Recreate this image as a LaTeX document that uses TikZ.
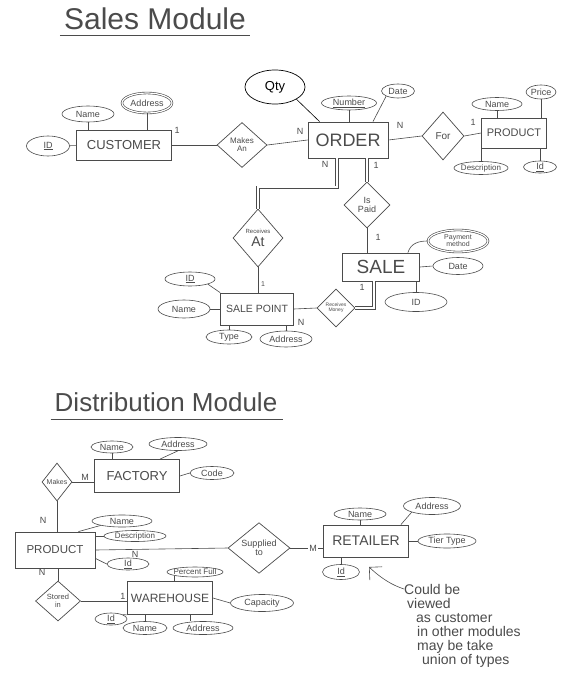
\documentclass[tikz,border=0pt]{standalone}
\usepackage{fontspec}
\setmainfont{Liberation Sans}
\usetikzlibrary{shapes.geometric,arrows.meta}
\definecolor{pencil}{RGB}{75,75,75}
\newcommand\myfs[1]{\fontsize{#1}{#1}\selectfont}
\begin{document}
\begin{tikzpicture}[x=1pt,y=-1pt,
  ent/.style={draw=pencil, line width=0.8pt, rectangle, inner sep=0pt, text=pencil},
  attr/.style={draw=pencil, line width=0.6pt, ellipse, inner sep=-3pt, text=pencil, font=\myfs{9}},
  mattr/.style={attr, double, double distance=1.2pt},
  rel/.style={draw=pencil, line width=0.7pt, diamond, inner sep=0pt, align=center, text=pencil},
  lnk/.style={draw=pencil, line width=0.6pt},
  dbl/.style={draw=pencil, line width=0.6pt, double, double distance=2pt},
  card/.style={font=\myfs{9}, inner sep=0pt, text=pencil},
  title/.style={text=pencil, inner sep=0pt},
]
\useasboundingbox (0,0) rectangle (568,685);
\fill[white] (0,0) rectangle (568,685);

% ================= Sales Module =================
\node[title, font=\myfs{30}] (t1) at (155,19) {Sales Module};
\draw[lnk] ([xshift=-4pt,yshift=-5pt]t1.south west) -- ([xshift=4pt,yshift=-5pt]t1.south east);

% CUSTOMER
\node[ent, minimum width=95pt, minimum height=30pt, font=\myfs{13}] (customer) at (124,145) {CUSTOMER};
\node[attr, minimum width=43pt, minimum height=20pt] (cid) at (48,146) {\underline{ID}};
\node[attr, minimum width=52pt, minimum height=16pt] (cname) at (88,114) {Name};
\node[mattr, minimum width=50pt, minimum height=20pt] (caddr) at (147,103) {Address};
\draw[lnk] (cid) -- (customer);
\draw[lnk] (cname.south) -- (cname.south |- customer.north);
\draw[lnk] (caddr.south) -- (caddr.south |- customer.north);

% Makes An
\node[rel, minimum width=50pt, minimum height=45pt, font=\myfs{8}] (makes) at (242,145) {Makes\\An};
\draw[lnk] (customer.east) -- (makes.west);
\node[card] (c1) at (177,130) {1};

% ORDER
\node[ent, minimum width=80pt, minimum height=36pt, font=\myfs{18}] (order) at (348,140) {ORDER};
\draw[lnk] (makes.east) -- (order.west);
\node[card] (c2) at (300,131) {N};
\node[draw=black, line width=0.7pt, ellipse, minimum width=60pt, minimum height=34pt, inner sep=0pt, font=\myfs{13}] (qty) at (275,87) {Qty};
\draw[black, line width=0.6pt] (qty.south east) -- ([xshift=12pt]order.north west);
\node[attr, minimum width=55pt, minimum height=14pt] (onum) at (349,103) {\underline{Number}};
\node[attr, minimum width=33pt, minimum height=14pt] (odate) at (398,91) {Date};
\draw[lnk] (onum.south) -- (onum.south |- order.north);
\draw[lnk] (odate.south west) -- ([xshift=25pt]order.north);

% For
\node[rel, minimum width=42pt, minimum height=48pt, font=\myfs{10}] (for) at (443,136) {For};
\draw[lnk] (order.east) -- (for.west);
\node[card] (c3) at (400,125) {N};

% PRODUCT (sales)
\node[ent, minimum width=65pt, minimum height=30pt, font=\myfs{11}] (product) at (514,133) {PRODUCT};
\draw[lnk] (for.east) -- (product.west);
\node[card] (c4) at (473,122) {1};
\node[attr, minimum width=50pt, minimum height=13pt] (pname) at (497,104) {Name};
\node[attr, minimum width=30pt, minimum height=14pt] (pprice) at (541,92) {Price};
\node[attr, minimum width=54pt, minimum height=13pt, font=\myfs{8}] (pdesc) at (481,168) {Description};
\node[attr, minimum width=33pt, minimum height=12pt] (pid) at (540,167) {\underline{Id}};
\draw[lnk] (pname.south) -- (pname.south |- product.north);
\draw[lnk] (pprice.south) -- (pprice.south |- product.north);
\draw[lnk] (pdesc.north) -- (pdesc.north |- product.south);
\draw[lnk] (pid.north) -- (pid.north |- product.south);

% Is Paid
\node[rel, minimum width=46pt, minimum height=46pt, font=\myfs{9}] (ispaid) at (367,205) {Is\\Paid};
\draw[dbl] (ispaid.north) -- (ispaid.north |- order.south);
\node[card] (c5) at (376,165) {1};

% SALE
\node[ent, minimum width=77pt, minimum height=28pt, font=\myfs{19}] (sale) at (381,267) {SALE};
\draw[lnk] (ispaid.south) -- (ispaid.south |- sale.north);
\node[card] (c6) at (378,237) {1};
\node[mattr, minimum width=60pt, minimum height=22pt, font=\myfs{7}, align=center] (spay) at (458,241) {Payment\\method};
\node[attr, minimum width=50pt, minimum height=17pt] (sdate) at (458,266) {Date};
\node[attr, minimum width=62pt, minimum height=19pt] (sid) at (416,302) {ID};
\draw[lnk] ([xshift=-12pt]sale.north east) .. controls +(3,-10) and +(-8,0) .. (spay.west);
\draw[lnk] (sale.east) -- (sdate.west);
\draw[lnk] (sid.north) -- (sid.north |- sale.south);

% Receives At
\node[rel, minimum width=50pt, minimum height=58pt, font=\myfs{6}] (recvat) at (258,238) {Receives\\[3pt]{\myfs{14}At}};
\draw[dbl] ([xshift=-11pt]order.south) -- ++(0,29) -| (recvat.north);
\node[card] (c7) at (325,164) {N};

% SALE POINT
\node[ent, minimum width=73pt, minimum height=32pt, font=\myfs{10.5}] (salept) at (257,309) {SALE POINT};
\draw[lnk] (recvat.south) -- (recvat.south |- salept.north);
\node[card, font=\myfs{7}] (c8) at (263,284) {1};
\node[attr, minimum width=50pt, minimum height=14pt] (spid) at (190,279) {\underline{ID}};
\node[attr, minimum width=52pt, minimum height=18pt] (spname) at (184,309) {Name};
\node[attr, minimum width=46pt, minimum height=14pt] (sptype) at (229,337) {Type};
\node[attr, minimum width=52pt, minimum height=16pt] (spaddr) at (286,339) {Address};
\draw[lnk] (spid.south east) -- (salept.north west);
\draw[lnk] (spname.east) -- (salept.west);
\draw[lnk] (sptype.north) -- (sptype.north |- salept.south);
\draw[lnk] (spaddr.north) -- (spaddr.north |- salept.south);

% Receives Money
\node[rel, minimum width=38pt, minimum height=38pt, font=\myfs{5}] (recvmoney) at (336,308) {Receives\\Money};
\draw[dbl] ([xshift=-7pt]sale.south) |- (recvmoney.east);
\draw[lnk] (recvmoney.west) -- (salept.east);
\node[card] (c9) at (362,287) {1};
\node[card] (c10) at (301,322) {N};

% ================= Distribution Module =================
\node[title, font=\myfs{26}] (t2) at (166,402) {Distribution Module};
\draw[lnk] ([xshift=-4pt,yshift=-8pt]t2.south west) -- ([xshift=6pt,yshift=-8pt]t2.south east);

% FACTORY
\node[ent, minimum width=85pt, minimum height=33pt, font=\myfs{13}] (factory) at (137,476) {FACTORY};
\node[attr, minimum width=42pt, minimum height=12pt] (fname) at (112,447) {Name};
\node[attr, minimum width=58pt, minimum height=13pt] (faddr) at (178,444) {Address};
\node[attr, minimum width=44pt, minimum height=13pt] (fcode) at (212,473) {Code};
\draw[lnk] (fname.south) -- (fname.south |- factory.north);
\draw[lnk] (faddr.south) -- ([xshift=23pt]factory.north);
\draw[lnk] (fcode.west) -- (factory.east);

% Makes
\node[rel, minimum width=30pt, minimum height=38pt, font=\myfs{7}] (makesd) at (57,482) {Makes};
\draw[lnk] (makesd.east) -- (makesd.east -| factory.west);
\node[card] (d1) at (85,477) {M};

% PRODUCT (distribution)
\node[ent, minimum width=80pt, minimum height=36pt, font=\myfs{11.5}] (dprod) at (55,550) {PRODUCT};
\draw[lnk] (makesd.south) -- (makesd.south |- dprod.north);
\node[card] (d2) at (43,520) {N};
\node[attr, minimum width=60pt, minimum height=12pt] (dname) at (122,521) {Name};
\node[attr, minimum width=62pt, minimum height=11pt, font=\myfs{8}] (ddesc) at (135,536) {Description};
\node[attr, minimum width=42pt, minimum height=12pt] (did) at (128,564) {\underline{Id}};
\draw[lnk] (dname.south west) -- ([xshift=-17pt]dprod.north east);
\draw[lnk] (ddesc.west) -- (ddesc.west -| dprod.east);
\draw[lnk] (did.west) -- ([yshift=10pt]dprod.south east);

% Supplied to
\node[rel, minimum width=62pt, minimum height=50pt, font=\myfs{9}] (supplied) at (259,548) {Supplied\\to};
\draw[lnk] (dprod.east) -- (supplied.west);
\node[card] (d3) at (135,554) {N};

% RETAILER
\node[ent, minimum width=85pt, minimum height=32pt, font=\myfs{14}] (retailer) at (366,541) {RETAILER};
\draw[lnk] (supplied.east) -- (supplied.east -| retailer.west);
\node[card, fill=white, inner sep=1pt] (d4) at (313,548) {M};
\node[attr, minimum width=52pt, minimum height=12pt] (rname) at (360,514) {Name};
\node[attr, minimum width=57pt, minimum height=17pt] (raddr) at (432,506) {Address};
\node[attr, minimum width=58pt, minimum height=14pt] (rtier) at (447,541) {Tier Type};
\node[attr, minimum width=37pt, minimum height=15pt] (rid) at (341,572) {\underline{Id}};
\draw[lnk] (rname.south) -- (rname.south |- retailer.north);
\draw[lnk] (raddr.south west) -- ([xshift=-8pt]retailer.north east);
\draw[lnk] (rtier.west) -- (retailer.east);
\draw[lnk] (rid.north) -- (rid.north |- retailer.south);

% Annotation
\node[anchor=north west, inner sep=0pt, align=left, text=pencil, font=\fontsize{14}{14}\selectfont] (note) at (404,584)
  {Could be\\\hspace{3pt}viewed\\\hspace{12pt}as customer\\\hspace{13pt}in other modules\\\hspace{13pt}may be take\\\hspace{18pt}union of types};
\coordinate (arrtip) at (369,567);
\draw[lnk, -{Straight Barb[length=9pt,width=18pt]}] ([yshift=-5pt]note.north west) .. controls (392,585) and (382,579) .. (arrtip);

% Stored in
\node[rel, minimum width=45pt, minimum height=40pt, font=\myfs{7.5}] (storedin) at (58,601) {Stored\\in};
\draw[lnk] (storedin.north) -- (storedin.north |- dprod.south);
\node[card] (d5) at (42,572) {N};

% WAREHOUSE
\node[ent, minimum width=85pt, minimum height=33pt, font=\myfs{12}] (warehouse) at (170,598) {WAREHOUSE};
\draw[lnk] (storedin.east) -- (storedin.east -| warehouse.west);
\node[card] (d6) at (123,596) {1};
\node[attr, minimum width=56pt, minimum height=10pt, font=\myfs{8}] (wpct) at (195,572) {Percent Full};
\node[attr, minimum width=63pt, minimum height=17pt] (wcap) at (262,603) {Capacity};
\node[attr, minimum width=32pt, minimum height=12pt] (wid) at (111,619) {\underline{Id}};
\node[attr, minimum width=44pt, minimum height=13pt] (wname) at (145,628) {Name};
\node[attr, minimum width=60pt, minimum height=13pt] (waddr) at (203,628) {Address};
\draw[lnk] (wpct.190) -- (wpct.190 |- warehouse.north);
\draw[lnk] (warehouse.east) -- (wcap.west);
\draw[lnk] (wid.north east) -- (warehouse.south west);
\draw[lnk] (wname.north) -- (wname.north |- warehouse.south);
\draw[lnk] ([xshift=20pt]warehouse.south) -- ([xshift=20pt]warehouse.south |- waddr.north);
\end{tikzpicture}
\end{document}
